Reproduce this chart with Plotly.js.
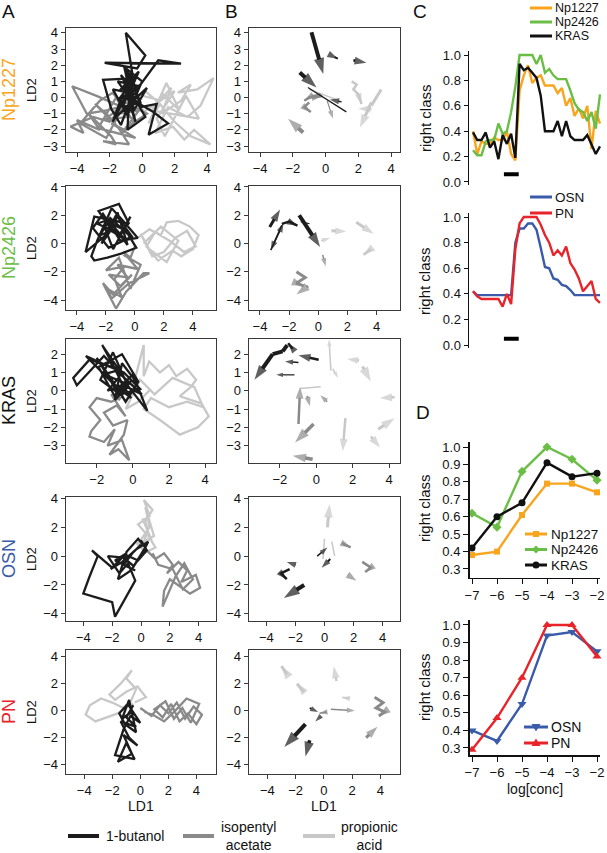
<!DOCTYPE html>
<html><head><meta charset="utf-8">
<script src="https://cdn.plot.ly/plotly-3.0.1.min.js"></script>
<style>html,body{margin:0;padding:0;background:#fff}#chart{width:607px;height:853px}</style>
</head><body><div id="chart"></div>
<script>
// ---------------- DATA ----------------
const odorNames = ['1-butanol', 'isopentyl<br>acetate', 'propionic<br>acid'];
const rowNames = ['Np1227', 'Np2426', 'KRAS', 'OSN', 'PN'];

// Column A: LDA trajectories (LD1, LD2)
const A1_but_x = [-1.2,-0.6,-1.0,0.2,-0.3,-2.3,2.4,1.0,-0.1,-1.5,-0.4,-2.4,-1.9,-1.3,-0.6,0.2,-0.9,-0.7,-0.1,0.9,0.4,1.6,0.7,-0.5,-1.3,-0.3,-1.8,-0.9,0.0,-1.1,-0.5,0.3,-1.6,-1.0,-0.4,-0.9,-0.2,-1.4,-0.7,-0.1,-1.2,-0.6,-1.8,-0.8,-0.3,-1.0,-0.5,-1.5,-0.2,-0.8];
const A1_but_y = [0.3,1.5,4.0,2.6,1.8,2.15,2.1,2.3,0.8,-0.2,1.2,1.1,-0.7,-1.7,0.2,-1.2,-2.0,1.6,-0.6,-0.4,-2.3,-1.6,-0.9,-0.2,1.4,0.2,0.5,-1.1,1.0,1.9,-0.8,0.6,-1.2,0.8,-1.5,0.0,1.6,0.4,1.2,-0.3,-0.6,0.9,-1.5,1.3,0.4,1.8,-0.4,1.0,0.7,0.1];
const A1_iso_x = [-1.0,-2.2,-3.4,-4.3,-2.8,-1.2,-2.0,-3.0,-4.4,-3.6,-4.0,-2.6,-3.3,-1.9,-1.6,-2.4,-0.8,-1.5,-2.9,-2.1,-1.2,-0.5,-1.8,-2.6,-3.8,-2.2,-1.4,-0.2,-1.1,-1.9,-0.4,-2.7,-1.6,-0.9,-2.3,-1.0,0.3,-1.3];
const A1_iso_y = [-0.5,-0.8,-1.0,0.7,0.1,-0.6,-1.5,-1.2,-1.8,-2.2,-1.4,-2.0,-1.0,-2.4,-2.9,-2.7,-2.9,-1.8,-0.4,-1.1,-2.2,-1.5,0.3,-0.2,-1.6,-2.5,-1.0,-0.8,-2.0,-1.6,-2.5,-1.9,0.0,-1.2,-1.4,-0.3,-1.0,-2.1];
const A1_prop_x = [0.2,1.0,1.8,1.2,2.4,3.0,2.2,3.4,4.4,3.6,2.8,1.6,0.8,1.9,2.6,3.2,4.2,3.0,2.0,1.1,0.4,1.5,2.3,1.3,0.6,1.8,3.5,2.7,1.4,0.9,2.0,0.1,-0.3,1.2];
const A1_prop_y = [0.4,-0.3,0.6,-1.0,-0.2,0.8,0.3,0.5,1.2,-0.5,-1.2,-0.6,-2.2,-1.8,-2.6,-2.0,-2.9,-2.4,-1.5,-0.4,-1.6,0.9,-0.8,0.2,-0.8,-1.0,-1.3,0.1,-2.4,-1.3,0.4,-0.9,0.2,-0.2];

const A2_but_x = [-1.5,-2.5,-1.1,-0.4,-2.8,-3.4,-2.0,-1.2,-0.2,-1.8,-2.9,-2.2,-1.0,0.2,-0.8,-1.6,-2.6,-3.0,-2.8,-1.9,-0.9,0.1,-0.6,-1.4,-2.3,-1.2,-0.5,-1.8,-2.6,-1.0,-0.3,-1.5,-2.1,-0.7,-1.3,-2.4,-1.7,-0.4];
const A2_but_y = [0.8,2.3,2.8,1.4,1.9,-0.6,0.6,1.9,0.5,-0.3,1.1,2.1,0.2,0.4,1.6,2.5,0.2,-0.9,-1.2,-1.0,-0.7,-0.3,0.9,1.3,0.0,2.2,-0.1,1.7,1.4,0.7,1.9,-0.4,1.2,0.3,1.0,0.6,1.8,0.6];
const A2_iso_x = [0.0,-0.3,-0.8,0.2,-1.2,-0.5,-1.8,-1.0,-0.2,-1.5,-2.2,-1.3,-0.6,0.6,1.0,-0.4,-1.6,-1.9,-0.9,-1.4,-0.7,-2.0,-1.1,-0.3,0.4,-0.8];
const A2_iso_y = [-0.2,-1.0,-0.6,-1.8,-1.5,-2.4,-2.2,-3.0,-2.2,-3.6,-2.8,-4.6,-3.4,-2.1,-2.1,-2.8,-3.9,-3.2,-3.8,-2.5,-1.6,-1.9,-1.0,-3.2,-1.5,-0.8];
const A2_prop_x = [0.2,1.0,1.8,2.2,3.0,3.8,4.4,4.0,3.2,2.6,1.6,0.8,1.4,2.4,3.4,4.2,3.6,2.8,2.0,1.2,0.4,1.0,2.2,3.0,1.8,0.6];
const A2_prop_y = [0.4,1.0,0.6,1.5,1.6,1.2,0.6,-0.4,-0.9,-0.5,-1.2,-0.2,0.8,0.2,-0.6,-0.2,0.9,0.4,-0.6,-0.9,0.7,-0.4,-1.3,0.2,1.2,0.0];

const A3_but_x = [-0.5,-1.2,-1.7,-0.8,-2.4,-3.3,-3.1,-1.6,-0.2,-1.0,-1.9,-0.6,0.3,-0.4,-1.3,-2.0,-0.9,0.0,0.8,-0.3,-1.1,-1.8,-0.7,0.4,-0.5,-1.5,-2.6,-1.2,-0.1,-0.8,-1.4,0.1,-0.6,-1.0,-0.3,0.5,-0.9,-1.6,-0.4,-0.7];
const A3_but_y = [0.2,1.6,2.5,1.2,1.7,0.7,0.3,1.9,0.4,-0.3,1.3,2.0,0.5,-0.6,0.8,1.8,0.0,0.9,-1.1,0.3,2.1,0.6,-0.2,0.1,1.0,1.4,1.9,0.5,-0.4,0.7,0.0,0.6,1.5,-0.5,0.2,-0.2,1.1,0.9,0.4,0.1];
const A3_iso_x = [-0.5,-1.2,-2.0,-2.4,-1.8,-2.3,-2.4,-1.6,-1.0,-1.4,-0.6,-0.2,-0.8,-1.3,-0.5,-0.3,-1.1,-1.6,-0.9,-0.4,-1.2,-0.7];
const A3_iso_y = [-0.3,-0.6,-0.4,-0.9,-1.6,-2.2,-2.5,-2.8,-2.1,-3.0,-2.7,-3.8,-3.2,-3.5,-2.4,-1.6,-1.9,-1.2,-0.8,-1.4,-0.2,-0.5];
const A3_prop_x = [0.0,0.6,0.6,0.9,1.5,2.0,2.4,3.0,3.5,3.2,2.6,3.8,4.2,3.6,2.6,1.5,0.6,1.0,2.0,3.0,3.9,3.4,2.2,1.2,0.4,-0.4,0.3,1.0];
const A3_prop_y = [0.2,2.5,0.8,1.6,1.0,1.4,0.8,1.2,0.6,0.2,-0.3,-0.7,-1.4,-2.0,-2.4,-1.6,-1.0,-0.4,-0.9,-0.6,-0.9,0.2,0.7,-0.2,0.6,-1.0,-0.6,0.1];

const A4_but_x = [0.0,-0.6,-1.2,-0.4,-1.8,-1.0,-2.0,-3.4,-3.0,-3.6,-4.0,-3.0,-2.0,-1.8,-0.4,-0.9,-1.5,-2.3,-1.2,-0.5,0.3,-0.2,-1.0,-1.6,-0.7,0.1,0.5,-0.3,-1.3,-2.1,-1.1,-0.2,0.4,0.0];
const A4_but_y = [0.8,0.2,-0.6,-1.0,-0.3,0.2,-0.8,0.4,0.0,-1.5,-2.6,-2.9,-3.2,-4.2,-1.7,-0.5,-1.2,0.0,-0.1,-0.7,0.6,1.2,0.3,-1.6,-1.0,0.2,1.0,0.5,-0.4,-0.9,0.1,-0.3,0.4,1.1];
const A4_iso_x = [0.4,1.0,1.6,2.2,1.8,2.6,3.2,2.8,3.8,4.1,3.4,2.6,2.0,1.6,1.5,2.4,3.0,3.6,2.9,2.2,1.2,0.8];
const A4_iso_y = [0.4,-0.2,0.2,-0.6,-1.2,-0.4,-1.0,-1.8,-1.3,-2.2,-2.6,-2.0,-1.6,-2.4,-3.5,-1.4,-0.5,-1.6,-2.3,-0.9,-0.6,0.2];
const A4_prop_x = [0.0,0.4,-0.2,0.6,0.2,0.8,0.3,0.5,0.1,0.7,-0.3,0.4,1.0,0.2,-0.1,0.6,0.3,0.9,0.0];
const A4_prop_y = [0.5,1.5,2.2,2.8,3.9,3.2,2.4,1.8,2.6,1.2,0.8,1.6,0.6,0.2,1.0,2.0,3.4,1.4,0.9];

const A5_but_x = [-0.5,-1.0,-0.3,-1.4,-0.8,-0.2,-1.2,-0.6,-1.6,-1.0,-0.4,-1.8,-1.2,-0.7,0.0,-0.9,-1.5,-1.1,-0.3,-0.8,-1.3,-0.5];
const A5_but_y = [0.4,-0.5,-1.2,-0.8,-2.0,-2.6,-1.8,-3.2,-3.8,-2.4,-3.6,-3.3,-1.4,-0.4,-0.9,0.5,-0.2,-1.0,-1.6,0.8,-0.6,0.0];
const A5_iso_x = [0.0,0.8,1.4,2.0,2.6,3.2,3.8,4.4,4.0,3.4,2.8,2.2,1.6,1.0,1.8,2.4,3.0,3.6,4.2,3.3,2.5,1.7,0.9,0.3];
const A5_iso_y = [0.2,-0.4,0.4,-0.2,0.6,-0.6,0.3,-0.3,-1.0,-0.2,-0.8,0.5,-0.5,0.1,0.7,-0.6,0.2,-0.9,0.5,0.9,0.0,-0.8,-0.3,-0.1];
const A5_prop_x = [-0.5,-1.2,-2.0,-2.8,-3.6,-3.9,-3.2,-2.4,-1.6,-0.8,-0.3,-1.0,-0.6,-1.4,-2.2,-1.8,-1.0,-0.2,0.4,-0.4];
const A5_prop_y = [0.5,0.2,0.6,0.9,0.4,-0.3,-0.8,-0.5,-0.2,0.4,1.6,2.4,3.0,2.0,1.2,0.8,1.4,1.8,1.0,0.6];

// Column B: mean trajectory arrows (each inner list is one arrow path)
const B1_but_x = [[-0.86,-0.14],[-1.58,-0.55],[-1.08,1.27],[0.98,0.26],[0.55,0.75],[1.7,2.5]];
const B1_but_y = [[4.04,1.45],[1.55,0.62],[0.62,-0.89],[-0.27,-0.12],[2.5,2.4],[2.3,2.15]];
const B1_iso_x = [[-1.37,-2.29],[-0.3,-1.0,-1.3],[-1.0,-1.3,-0.9],[-0.8,-0.2],[0.1,0.45]];
const B1_iso_y = [[-2.17,-1.32],[0.2,0.0,-0.2],[-0.3,-0.6,-0.9],[0.0,0.1],[-0.2,-1.3]];
const B1_prop_x = [[-1.0,0.6],[1.6,1.9,1.7,2.0,2.2],[2.8,2.1],[2.8,2.0],[2.8,3.4]];
const B1_prop_y = [[0.5,-0.1],[1.0,0.8,0.5,0.2,-0.4],[-0.3,-1.86],[-0.7,-0.7],[-0.5,0.5]];

const B2_but_x = [[-3.33,-2.62],[-2.5,-3.26],[-3.26,-2.38],[-2.5,-2.0,-1.43],[-1.31,0.12],[-1.2,-0.6]];
const B2_but_y = [[1.17,2.4],[1.29,-0.47],[-0.47,1.45],[1.39,1.55,1.26],[2.0,-0.24],[1.55,1.4]];
const B2_iso_x = [[-1.5,-0.9,-1.5,-1.0],[-0.7,-1.5],[0.3,0.5]];
const B2_iso_y = [[-2.0,-2.4,-2.8,-3.0],[-3.0,-3.6],[-0.8,-1.6]];
const B2_prop_x = [[0.2,0.8],[0.9,1.9],[2.6,3.8],[3.6,3.1]];
const B2_prop_y = [[0.2,0.4],[0.9,0.85],[1.5,0.7],[-0.4,-0.8]];

const B3_but_x = [[-1.6,-1.85,-2.4,-3.4],[-1.3,-1.55],[0.13,-0.98],[-0.98,-1.72],[-1.2,-2.2]];
const B3_but_y = [[2.5,2.15,2.0,0.6],[2.3,2.6],[1.7,1.94],[1.55,1.6],[0.87,0.87]];
const B3_iso_x = [[-0.98,-0.89],[-0.15,-1.17],[-0.2,-1.3],[-0.5,-0.35],[0.6,0.22]];
const B3_iso_y = [[-1.82,0.22],[-1.82,-2.83],[-3.75,-3.55],[-0.28,-0.85],[-0.6,-0.25]];
const B3_prop_x = [[-0.87,0.24],[0.8,0.7],[0.9,1.2],[2.35,1.7],[2.54,3.0],[1.6,1.45],[3.0,3.5],[4.3,3.5],[3.4,4.3]];
const B3_prop_y = [[0.13,0.22],[1.1,2.8],[1.2,0.7],[1.65,1.74],[1.33,0.5],[-1.5,-3.3],[-2.5,-3.1],[-0.35,-0.4],[-2.1,-1.5]];

const B4_but_x = [[-2.4,-3.0,-2.6],[-1.4,-2.8],[0.4,-0.2],[-0.5,0.2],[-2.0,-2.6]];
const B4_but_y = [[-0.9,-1.2,-1.6],[-2.0,-2.9],[-0.2,-0.8],[0.0,0.6],[-0.6,-0.4]];
const B4_iso_x = [[1.2,1.8],[1.6,2.2],[2.6,3.2,2.8]];
const B4_iso_y = [[0.9,0.6],[-1.3,-1.7],[-0.4,-0.8,-1.1]];
const B4_prop_x = [[0.2,0.35],[0.0,-0.1],[0.5,0.7]];
const B4_prop_y = [[2.0,3.6],[1.2,-0.2],[1.0,0.0]];

const B5_but_x = [[-1.3,-2.8],[-1.0,-1.3],[-0.2,-0.6],[-1.0,-0.4]];
const B5_but_y = [[-1.0,-2.7],[-2.2,-3.4],[-0.4,-0.8],[0.2,-0.1]];
const B5_iso_x = [[0.5,2.2],[3.6,4.2,3.7,4.3,3.9],[0.2,-0.3],[3.0,3.8]];
const B5_iso_y = [[0.1,0.0],[1.0,0.6,0.2,-0.1,-0.4],[-0.1,-0.2],[-2.0,-1.2]];
const B5_prop_x = [[-2.6,-3.0],[-1.4,-1.9],[0.9,0.7],[1.8,1.3]];
const B5_prop_y = [[2.7,3.3],[1.4,2.0],[2.2,3.3],[0.9,1.0]];

// Column C: right classification over time bins
const timeBins = [0,1,2,3,4,5,6,7,8,9,10,11,12,13,14,15,16,17,18,19,20,21,22,23,24,25,26,27,28,29,30];
const C_np1227 = [0.40,0.22,0.32,0.30,0.30,0.35,0.33,0.33,0.40,0.22,0.17,0.72,0.84,0.92,0.78,0.82,0.84,0.76,0.76,0.76,0.70,0.74,0.60,0.66,0.52,0.58,0.50,0.60,0.26,0.56,0.46];
const C_np2426 = [0.25,0.21,0.21,0.32,0.33,0.33,0.46,0.38,0.40,0.55,0.75,1.0,1.0,1.0,1.0,0.93,1.0,0.86,0.89,0.84,0.81,0.81,0.81,0.72,0.62,0.57,0.55,0.48,0.55,0.42,0.69];
const C_kras = [0.39,0.33,0.33,0.39,0.27,0.32,0.18,0.37,0.30,0.38,0.19,0.93,0.88,0.90,0.86,0.82,0.68,0.40,0.40,0.40,0.48,0.36,0.48,0.36,0.33,0.33,0.33,0.37,0.29,0.22,0.28];
const C_osn = [0.42,0.39,0.39,0.39,0.39,0.39,0.39,0.39,0.39,0.39,0.80,0.91,0.91,0.95,0.95,0.90,0.76,0.61,0.60,0.52,0.51,0.47,0.46,0.43,0.39,0.39,0.39,0.39,0.39,0.39,0.39];
const C_pn = [0.42,0.38,0.36,0.36,0.36,0.36,0.36,0.30,0.40,0.32,0.75,0.95,1.0,1.0,1.0,1.0,0.94,0.86,0.80,0.70,0.74,0.70,0.77,0.64,0.59,0.52,0.42,0.46,0.50,0.36,0.33];
const stimBins = [7.3, 10.8];
const stimLevel1 = [0.06, 0.06];
const stimLevel2 = [0.05, 0.05];
const cTicks = [0.0,0.2,0.4,0.6,0.8,1.0];

// Column D: right classification vs log concentration
const logConc = [-7,-6,-5,-4,-3,-2];
const D_np1227 = [0.38,0.40,0.61,0.79,0.79,0.74];
const D_np2426 = [0.62,0.54,0.86,1.00,0.93,0.81];
const D_kras = [0.42,0.60,0.68,0.91,0.83,0.85];
const D_osn = [0.40,0.34,0.55,0.94,0.96,0.85];
const D_pn = [0.29,0.47,0.70,1.00,1.00,0.82];
const dYTicks = [0.3,0.4,0.5,0.6,0.7,0.8,0.9,1.0];

// ---------------- STYLE / LAYOUT ----------------
const W = 607, H = 853;
const FONT = 'Liberation Sans, Arial, Helvetica, sans-serif';
const ORANGE = '#F8A51D', GREEN = '#6BBE45', BLACK = '#111111', BLUE = '#3A5BAA', RED = '#E8232A';
const ODC = {but: '#1c1c1c', iso: '#8a8a8a', prop: '#c8c8c8'};
const rowColors = [ORANGE, GREEN, BLACK, BLUE, RED];
const HEAD_SCALE = 1.4;
const px = p => p / W;
const py = p => 1 - p / H;

const rowGeom = [
  {top: 28,  bot: 152, xr: [-4.68, 4.55], yr: [-3.37, 4.3],  xt: [-4,-2,0,2,4], yt: [-3,-2,-1,0,1,2,3,4]},
  {top: 186, bot: 310, xr: [-4.75, 5.6],  yr: [-4.7, 4.07],  xt: [-4,-2,0,2,4], yt: [-4,-2,0,2,4]},
  {top: 339, bot: 463, xr: [-3.7, 4.6],   yr: [-3.95, 2.83], xt: [-2,0,2,4],    yt: [-3,-2,-1,0,1,2]},
  {top: 497, bot: 621, xr: [-5.2, 5.2],   yr: [-4.5, 4.1],   xt: [-4,-2,0,2,4], yt: [-4,-2,0,2,4]},
  {top: 650, bot: 774, xr: [-5.3, 5.4],   yr: [-4.7, 4.5],   xt: [-4,-2,0,2,4], yt: [-4,-2,0,2,4]}
];
const colA = [66, 216], colB = [249, 400];

const Atraj = [
  {but: [A1_but_x, A1_but_y], iso: [A1_iso_x, A1_iso_y], prop: [A1_prop_x, A1_prop_y]},
  {but: [A2_but_x, A2_but_y], iso: [A2_iso_x, A2_iso_y], prop: [A2_prop_x, A2_prop_y]},
  {but: [A3_but_x, A3_but_y], iso: [A3_iso_x, A3_iso_y], prop: [A3_prop_x, A3_prop_y]},
  {but: [A4_but_x, A4_but_y], iso: [A4_iso_x, A4_iso_y], prop: [A4_prop_x, A4_prop_y]},
  {but: [A5_but_x, A5_but_y], iso: [A5_iso_x, A5_iso_y], prop: [A5_prop_x, A5_prop_y]}
];
const Barr = [
  {but: [B1_but_x, B1_but_y], iso: [B1_iso_x, B1_iso_y], prop: [B1_prop_x, B1_prop_y]},
  {but: [B2_but_x, B2_but_y], iso: [B2_iso_x, B2_iso_y], prop: [B2_prop_x, B2_prop_y]},
  {but: [B3_but_x, B3_but_y], iso: [B3_iso_x, B3_iso_y], prop: [B3_prop_x, B3_prop_y]},
  {but: [B4_but_x, B4_but_y], iso: [B4_iso_x, B4_iso_y], prop: [B4_prop_x, B4_prop_y]},
  {but: [B5_but_x, B5_but_y], iso: [B5_iso_x, B5_iso_y], prop: [B5_prop_x, B5_prop_y]}
];
// arrow styles (line width, head size) per arrow
const arrowStyle = [
  {but: {w: [4,4,1.3,1.5,2,2.5], h: [12,12,0,7,8,9]}, iso: {w: [4,2.5,2.5,2.5,1.2], h: [11,8,8,8,6]}, prop: {w: [1.5,2.5,3,3,3], h: [0,8,10,9,0]}},
  {but: {w: [3,1.5,1.5,2.5,4,1.2], h: [9,7,7,8,11,0]}, iso: {w: [3,3,1.5], h: [9,10,6]}, prop: {w: [1.5,3,3,2.5], h: [6,8,9,9]}},
  {but: {w: [4,2.5,2.5,1.5,1.2], h: [11,8,9,6,5]}, iso: {w: [2.5,3.5,3.5,2,1.5], h: [9,11,10,7,6]}, prop: {w: [1.5,1.5,1.5,2.5,3,2.5,2.5,2.5,3], h: [0,5,5,8,11,9,9,9,10]}},
  {but: {w: [2.5,4,2,1.5,2], h: [8,12,7,6,7]}, iso: {w: [2.5,2.5,2.5], h: [8,8,8]}, prop: {w: [3,1.5,1.5], h: [10,0,0]}},
  {but: {w: [4,3.5,1.5,1.5], h: [12,11,6,6]}, iso: {w: [1.5,3,1.5,3], h: [6,9,6,9]}, prop: {w: [3,3,2.5,1.5], h: [10,9,9,6]}}
];

const traces = [];
const layout = {
  width: W, height: H, autosize: false,
  margin: {l: 0, r: 0, t: 0, b: 0},
  paper_bgcolor: '#fff', plot_bgcolor: '#fff',
  font: {family: FONT, color: '#111', size: 13},
  showlegend: false,
  annotations: [], shapes: []
};
const axKey = (c, i) => c + 'axis' + (i === 1 ? '' : i);
const axRef = (c, i) => c + (i === 1 ? '' : i);

function boxAxes(i, xd, row) {
  const common = {showline: true, mirror: true, linecolor: '#3a3a3a', linewidth: 1.3,
    ticks: 'outside', ticklen: 4, tickwidth: 1, tickcolor: '#3a3a3a',
    showgrid: false, zeroline: false, tickfont: {size: 13, color: '#111', family: FONT}, fixedrange: true};
  layout[axKey('x', i)] = Object.assign({}, common, {domain: [px(xd[0]), px(xd[1])], range: row.xr,
    tickvals: row.xt, anchor: axRef('y', i)});
  layout[axKey('y', i)] = Object.assign({}, common, {domain: [py(row.bot), py(row.top)], range: row.yr,
    tickvals: row.yt, anchor: axRef('x', i)});
}

function arrowTrace(xs, ys, color, w, head, i) {
  const n = xs.length;
  return {
    type: 'scatter', mode: head > 0 ? 'lines+markers' : 'lines',
    x: xs, y: ys, xaxis: axRef('x', i), yaxis: axRef('y', i),
    line: {color: color, width: w},
    marker: {symbol: xs.map((_, k) => k === n - 1 ? 'arrow' : 'circle'),
             size: xs.map((_, k) => k === n - 1 ? head * HEAD_SCALE : 0),
             color: color, angleref: 'previous', line: {width: 0}},
    showlegend: false, hoverinfo: 'skip'
  };
}

const order = ['prop', 'iso', 'but'];
rowGeom.forEach((row, r) => {
  const ia = 2 * r + 1, ib = 2 * r + 2;
  boxAxes(ia, colA, row);
  boxAxes(ib, colB, row);
  order.forEach(od => {
    const [xs, ys] = Atraj[r][od];
    traces.push({type: 'scatter', mode: 'lines', x: xs, y: ys,
      xaxis: axRef('x', ia), yaxis: axRef('y', ia),
      line: {color: ODC[od], width: 2.3}, showlegend: false, hoverinfo: 'skip'});
  });
  order.forEach(od => {
    const [xl, yl] = Barr[r][od];
    const st = arrowStyle[r][od];
    xl.forEach((xs, k) => traces.push(arrowTrace(xs, yl[k], ODC[od], st.w[k], st.h[k], ib)));
  });
  const yc = (row.top + row.bot) / 2;
  layout.annotations.push({text: rowNames[r], x: px(9), y: py(yc), xref: 'paper', yref: 'paper',
    textangle: -90, showarrow: false, font: {size: 18, color: rowColors[r], family: FONT}, xanchor: 'center', yanchor: 'middle'});
  layout.annotations.push({text: 'LD2', x: px(31), y: py(yc), xref: 'paper', yref: 'paper',
    textangle: -90, showarrow: false, font: {size: 13, color: '#111', family: FONT}, xanchor: 'center', yanchor: 'middle'});
});

// C panels
function cAxes(i, top, bot) {
  layout[axKey('x', i)] = {domain: [px(469), px(604)], range: [-0.95, 30.95], visible: false, anchor: axRef('y', i), fixedrange: true};
  layout[axKey('y', i)] = {domain: [py(bot), py(top)], range: [-0.02, 1.03], anchor: axRef('x', i),
    showline: true, linecolor: '#111', linewidth: 1.5, ticks: 'outside', ticklen: 4, tickcolor: '#111',
    tickvals: cTicks, tickformat: '.1f', showgrid: false, zeroline: false,
    tickfont: {size: 13, color: '#111', family: FONT}, fixedrange: true};
}
cAxes(11, 51.2, 184.5);
cAxes(12, 213.2, 347.6);
[[C_np1227, ORANGE], [C_np2426, GREEN], [C_kras, BLACK]].forEach(([v, c]) =>
  traces.push({type: 'scatter', mode: 'lines', x: timeBins, y: v, xaxis: 'x11', yaxis: 'y11',
    line: {color: c, width: 2.4}, showlegend: false, hoverinfo: 'skip'}));
[[C_osn, BLUE], [C_pn, RED]].forEach(([v, c]) =>
  traces.push({type: 'scatter', mode: 'lines', x: timeBins, y: v, xaxis: 'x12', yaxis: 'y12',
    line: {color: c, width: 2.4}, showlegend: false, hoverinfo: 'skip'}));
traces.push({type: 'scatter', mode: 'lines', x: stimBins, y: stimLevel1, xaxis: 'x11', yaxis: 'y11',
  line: {color: '#000', width: 4}, showlegend: false, hoverinfo: 'skip'});
traces.push({type: 'scatter', mode: 'lines', x: stimBins, y: stimLevel2, xaxis: 'x12', yaxis: 'y12',
  line: {color: '#000', width: 4}, showlegend: false, hoverinfo: 'skip'});

// D panels
function dAxes(i, top, bot, yr) {
  const common = {showline: true, linecolor: '#111', linewidth: 1.5, ticks: 'outside', ticklen: 5, tickcolor: '#111',
    showgrid: false, zeroline: false, tickfont: {size: 13, color: '#111', family: FONT}, fixedrange: true};
  layout[axKey('x', i)] = Object.assign({}, common, {domain: [px(469.5), px(599.5)], range: [-7.1, -1.9],
    tickvals: logConc, anchor: axRef('y', i)});
  layout[axKey('y', i)] = Object.assign({}, common, {domain: [py(bot), py(top)], range: yr,
    tickvals: dYTicks, tickformat: '.1f', anchor: axRef('x', i)});
}
dAxes(13, 441.8, 577.7, [0.25, 1.03]);
dAxes(14, 619.7, 755, [0.26, 1.03]);
[[D_np1227, ORANGE, 'square', 6], [D_np2426, GREEN, 'diamond', 7], [D_kras, BLACK, 'circle', 7]].forEach(([v, c, s, z]) =>
  traces.push({type: 'scatter', mode: 'lines+markers', x: logConc, y: v, xaxis: 'x13', yaxis: 'y13',
    line: {color: c, width: 2.4}, marker: {symbol: s, size: z, color: c}, showlegend: false, hoverinfo: 'skip', cliponaxis: false}));
[[D_osn, BLUE, 'triangle-down', 8], [D_pn, RED, 'triangle-up', 8]].forEach(([v, c, s, z]) =>
  traces.push({type: 'scatter', mode: 'lines+markers', x: logConc, y: v, xaxis: 'x14', yaxis: 'y14',
    line: {color: c, width: 2.4}, marker: {symbol: s, size: z, color: c}, showlegend: false, hoverinfo: 'skip', cliponaxis: false}));

// ---------------- TEXT / LEGENDS ----------------
function ann(text, x, y, size, opts) {
  layout.annotations.push(Object.assign({text: text, x: px(x), y: py(y), xref: 'paper', yref: 'paper',
    showarrow: false, font: {size: size, color: '#111', family: FONT}, xanchor: 'center', yanchor: 'middle',
    borderpad: 0}, opts || {}));
}
ann('A', 8, 11, 19); ann('B', 231, 11, 19); ann('C', 420, 11, 19); ann('D', 423, 412, 19);
ann('LD1', 141, 806, 14); ann('LD1', 324, 806, 14);
ann('right class', 425, 118, 15, {textangle: -90});
ann('right class', 425, 281, 15, {textangle: -90});
ann('right class', 424, 508, 15, {textangle: -90});
ann('right class', 424, 687, 15, {textangle: -90});
ann('log[conc]', 535, 789, 14);

function legLine(x0, x1, y, color, w) {
  layout.shapes.push({type: 'line', xref: 'paper', yref: 'paper', x0: px(x0), x1: px(x1), y0: py(y), y1: py(y),
    line: {color: color, width: w}});
}
function legMarker(cx, cy, sym, color) {
  const base = {xref: 'paper', yref: 'paper', xsizemode: 'pixel', ysizemode: 'pixel',
    xanchor: px(cx), yanchor: py(cy), fillcolor: color, line: {width: 0}};
  if (sym === 'square') layout.shapes.push(Object.assign(base, {type: 'rect', x0: -3, x1: 3, y0: -3, y1: 3}));
  else if (sym === 'circle') layout.shapes.push(Object.assign(base, {type: 'circle', x0: -3.5, x1: 3.5, y0: -3.5, y1: 3.5}));
  else if (sym === 'diamond') layout.shapes.push(Object.assign(base, {type: 'path', path: 'M0,4L4,0L0,-4L-4,0Z'}));
  else if (sym === 'triangle-up') layout.shapes.push(Object.assign(base, {type: 'path', path: 'M0,4.5L4.5,-3L-4.5,-3Z'}));
  else if (sym === 'triangle-down') layout.shapes.push(Object.assign(base, {type: 'path', path: 'M0,-4.5L4.5,3L-4.5,3Z'}));
}
const cLeg1 = [['Np1227', ORANGE, 8], ['Np2426', GREEN, 22], ['KRAS', BLACK, 36]];
cLeg1.forEach(([t, c, y]) => { legLine(530, 552, y, c, 3); ann(t, 554, y, 12.5, {xanchor: 'left'}); });
const cLeg2 = [['OSN', BLUE, 197], ['PN', RED, 213]];
cLeg2.forEach(([t, c, y]) => { legLine(530, 552, y, c, 3); ann(t, 554, y, 13.5, {xanchor: 'left'}); });
const dLeg1 = [['Np1227', ORANGE, 534, 'square'], ['Np2426', GREEN, 549.5, 'diamond'], ['KRAS', BLACK, 565, 'circle']];
dLeg1.forEach(([t, c, y, s]) => { legLine(525, 547, y, c, 3); legMarker(536, y, s, c); ann(t, 550, y, 13.5, {xanchor: 'left'}); });
const dLeg2 = [['OSN', BLUE, 727, 'triangle-down'], ['PN', RED, 743, 'triangle-up']];
dLeg2.forEach(([t, c, y, s]) => { legLine(524, 548, y, c, 3); legMarker(536, y, s, c); ann(t, 550, y, 14, {xanchor: 'left'}); });

// bottom odor legend
legLine(68, 99, 836, ODC.but, 4);  ann(odorNames[0], 105, 836, 14, {xanchor: 'left'});
legLine(183, 214, 836, ODC.iso, 4); ann(odorNames[1], 248, 836, 14);
legLine(303, 335, 836, ODC.prop, 4); ann(odorNames[2], 369, 836, 14);

Plotly.newPlot('chart', traces, layout, {staticPlot: true, displayModeBar: false});
</script>
</body></html>
